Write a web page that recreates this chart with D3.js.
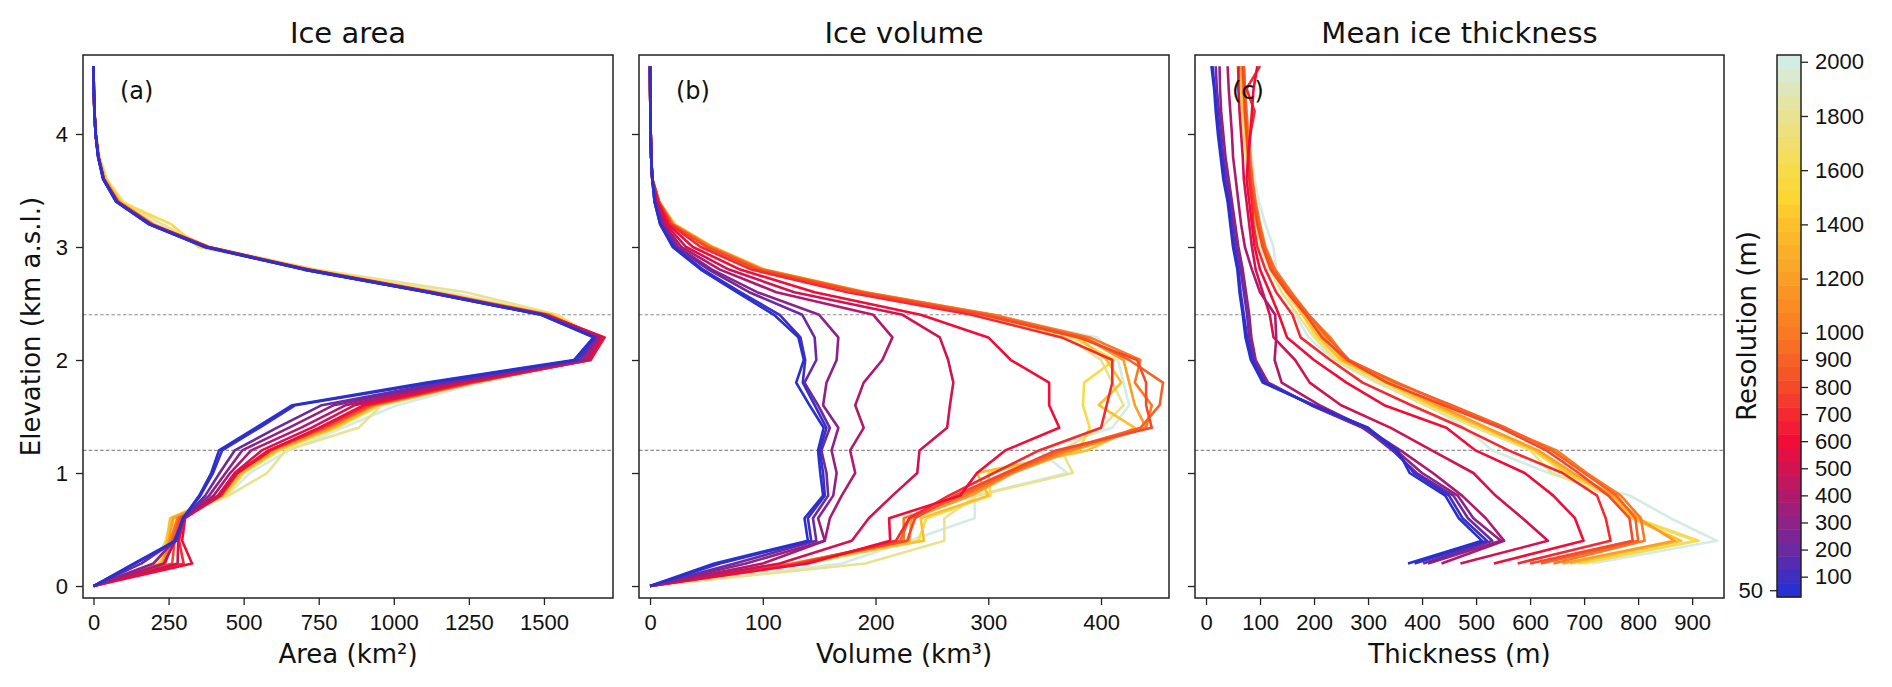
<!DOCTYPE html>
<html>
<head>
<meta charset="utf-8">
<title>Ice area, volume and thickness by resolution</title>
<style>
  body { margin: 0; background: #fff; }
  svg { display: block; font-family: "DejaVu Sans", sans-serif; }
  .tick text { font-size: 22px; fill: #111; }
  .tick line { stroke: #222; stroke-width: 1.3px; }
  .domain { display: none; }
</style>
</head>
<body>
<svg id="chart" width="1892" height="687"></svg>
<script src="https://d3js.org/d3.v7.min.js"></script>
<script>
// elevation bins (km a.s.l.)
const elevations = [0, 0.2, 0.4, 0.6, 0.8, 1.0, 1.2, 1.4, 1.6, 1.8, 2.0, 2.2, 2.4,
  2.6, 2.8, 3.0, 3.2, 3.4, 3.6, 3.8, 4.0, 4.2, 4.4, 4.6];

// DEM resolutions (m), one row per resolution in the arrays below
const resolutions = [50, 100, 200, 300, 400, 500, 600, 700, 800, 900, 1000, 1200, 1400, 1600, 1800, 2000];

// (a) ice area, km2
const areaKm2 = [
  [0,135,272,298,352,392,418,540,662,1110,1600,1665,1490,1110,700,370,185,75,32,15,7,3,1,0],
  [0,140,275,298,356,398,428,552,672,1125,1610,1668,1492,1112,702,372,186,76,32,15,7,3,1,0],
  [0,160,270,300,372,420,470,610,760,1160,1620,1672,1495,1115,705,375,188,78,33,16,7,3,1,0],
  [0,200,268,302,385,440,495,650,800,1180,1630,1678,1497,1118,707,377,190,78,33,16,7,3,1,0],
  [0,235,272,300,400,455,525,690,840,1200,1640,1685,1500,1120,708,378,190,79,34,16,7,3,1,0],
  [0,280,282,300,415,470,560,725,870,1220,1648,1692,1500,1122,710,380,192,80,34,16,7,3,1,0],
  [0,328,295,305,420,478,585,750,900,1240,1655,1702,1505,1125,712,380,192,80,34,16,7,3,1,0],
  [0,300,285,300,425,480,590,760,910,1250,1655,1697,1505,1125,712,380,193,80,34,16,7,3,1,0],
  [0,262,270,290,418,478,585,765,920,1255,1650,1692,1510,1128,712,382,193,80,34,16,7,3,1,0],
  [0,240,262,285,415,475,582,770,925,1258,1648,1688,1512,1130,715,382,195,82,35,16,7,3,1,0],
  [0,235,255,280,420,480,590,775,930,1262,1645,1685,1515,1130,715,385,195,82,35,16,7,3,1,0],
  [0,230,250,265,425,485,600,790,935,1265,1642,1682,1520,1135,720,385,200,85,35,16,7,3,1,0],
  [0,225,245,255,430,495,610,800,945,1268,1640,1680,1525,1140,725,370,200,90,40,17,8,3,1,0],
  [0,215,240,260,440,500,620,810,955,1272,1640,1678,1535,1150,730,350,260,92,40,18,8,3,1,0],
  [0,220,250,275,450,578,640,882,960,1275,1635,1672,1545,1240,740,380,230,100,45,20,10,4,1,0],
  [0,200,240,270,445,520,650,830,1010,1290,1630,1665,1540,1180,735,385,210,95,42,18,8,3,1,0]
];

// (b) ice volume, km3
const volumeKm3 = [
  [0,57,140,137,153.5,151,149,154,141.5,129.6,136.4,131.6,110,77,45,20,9,4,2,1,0.6,0.3,0.1,0],
  [0,62,143,140,155,153.5,150.5,156.5,146,135.5,137.6,133.4,115,80,47,21,9,4,2,1,0.6,0.3,0.1,0],
  [0,75,147.5,144.5,158,156.5,152,159.5,149,137,147.5,146,135,88,52,23,10,4,2,1,0.6,0.3,0.1,0],
  [0,85,155,149,162.5,165.5,161,167,153.5,156.5,165.5,167,150,95,55,25,11,5,2,1,0.6,0.3,0.1,0],
  [0,100,155,159.5,170,182,177.5,189.5,182,189.5,206,215,198,112,62,28,12,5,2,1,0.6,0.3,0.1,0],
  [0,115,179,194,215,237,239,263.5,266,269,264.4,257,224,128,70,32,14,6,2,1,0.6,0.3,0.1,0],
  [0,140,213,212,275,290,315,363,354,354,320,300,240,146,80,38,16,7,2,1,0.6,0.3,0.1,0],
  [0,135,218,230,265,305,345,400,405,410,410,365,285,175,90,45,18,7,2,1,0.6,0.3,0.1,0],
  [0,130,228,235,270,315,360,445,440,440,432,380,295,185,95,50,19,8,2,1,0.6,0.3,0.1,0],
  [0,130,222,230,275,318,365,435,452,455,425,385,300,188,98,52,20,8,2,1,0.6,0.3,0.1,0],
  [0,128,225,225,280,320,370,440,445,430,435,390,305,190,100,54,20,8,2,1,0.6,0.3,0.1,0],
  [0,125,230,232,285,322,375,440,430,425,420,385,300,190,100,55,21,8,2,1,0.6,0.3,0.1,0],
  [0,130,243,240,300,290,388,430,398,418,405,380,303,192,102,56,22,8,2,1,0.6,0.3,0.1,0],
  [0,140,238,245,302,300,380,390,384,385,412,375,298,190,100,55,22,8,2,1,0.6,0.3,0.1,0],
  [0,191,261,261,290,375,365,400,420,410,400,370,290,185,98,52,20,8,2,1,0.6,0.3,0.1,0],
  [0,170,230,288,288,370,345,410,425,420,415,397,295,188,98,50,20,8,2,1,0.6,0.3,0.1,0]
];

// (c) mean ice thickness, m (no value where there is no ice)
const thicknessM = [
  [null,374,511,468,443,377,355,299,200,105,83,73,68,62,58,50,45,40,32,27,22,18,15,10],
  [null,386,520,475,450,385,350,300,198,108,86,76,70,64,60,52,46,42,34,29,24,20,16,12],
  [null,402,530,485,458,390,345,292,195,111,89,80,76,70,64,56,50,45,38,32,28,24,20,18],
  [null,411,546,495,466,400,352,290,195,115,92,84,80,74,68,60,54,48,42,36,32,28,26,25],
  [null,436,552,518,474,420,360,295,210,140,127,130,128,100,85,72,65,60,55,50,48,45,42,40],
  [null,471,633,586,536,495,418,342,250,192,165,125,118,105,92,85,80,75,70,68,65,62,60,60],
  [null,533,699,683,643,590,499,445,330,260,200,150,135,118,100,90,85,80,75,78,82,85,88,95],
  [null,577,749,740,724,660,560,475,380,290,230,175,160,130,110,95,88,85,80,78,82,90,75,100],
  [null,600,790,784,745,690,630,545,440,335,262,215,185,150,120,105,95,88,82,78,75,72,70,68],
  [null,620,800,795,760,700,640,555,455,350,265,225,190,155,125,108,98,90,85,80,76,74,72,70],
  [null,643,812,805,768,705,649,550,450,355,262,230,190,158,128,110,100,92,86,82,78,75,72,70],
  [null,660,868,800,755,680,615,520,430,340,255,220,185,155,125,108,98,90,85,80,76,72,70,65],
  [null,674,880,790,750,672,610,515,420,335,250,210,180,150,122,105,95,88,82,78,74,70,66,62],
  [null,690,912,795,752,665,605,510,415,330,248,205,178,148,120,104,94,86,80,76,72,68,64,60],
  [null,700,905,790,748,640,600,500,405,320,240,200,170,140,118,102,92,85,78,74,70,66,62,58],
  [null,715,946,860,785,634,530,480,410,315,236,190,165,150,130,125,110,98,90,85,80,75,72,70]
];

const areaTicks = [0, 250, 500, 750, 1000, 1250, 1500];
const volumeTicks = [0, 100, 200, 300, 400];
const thicknessTicks = [0, 100, 200, 300, 400, 500, 600, 700, 800, 900];
const elevationTicks = [0, 1, 2, 3, 4];
const colorbarTicks = [100, 200, 300, 400, 500, 600, 700, 800, 900, 1000, 1200, 1400, 1600, 1800, 2000];
const guideElevations = [1.2, 2.4];

// colormap anchors (resolution -> colour)
const colorStops = [50, 200, 400, 600, 800, 1000, 1200, 1400, 1500, 1600, 1800, 2000];
const colorValues = ['#2830d2', '#6a2aa2', '#b01a6c', '#f20c38', '#f44a2a', '#f87a22',
  '#fa9e26', '#fcc02c', '#fdd632', '#f7dc4a', '#e9e290', '#d3ece4'];

const svg = d3.select("#chart");
const plotTop = 55, plotBottom = 598;
const fmt = d3.format("d");

const color = d3.scaleLinear().domain(colorStops).range(colorValues).interpolate(d3.interpolateRgb);
const y = d3.scaleLinear().domain([-0.106, 4.699]).range([plotBottom, plotTop]);

const panels = [
  { left: 83, right: 613, domain: [-35, 1730], ticks: areaTicks, data: areaKm2,
    title: "Ice area", tag: "(a)", xlabel: "Area (km\u00b2)" },
  { left: 639, right: 1169, domain: [-9.8, 460.3], ticks: volumeTicks, data: volumeKm3,
    title: "Ice volume", tag: "(b)", xlabel: "Volume (km\u00b3)" },
  { left: 1195, right: 1724, domain: [-20.4, 959], ticks: thicknessTicks, data: thicknessM,
    title: "Mean ice thickness", tag: "(c)", xlabel: "Thickness (m)" }
];

panels.forEach((p, pi) => {
  const x = d3.scaleLinear().domain(p.domain).range([p.left, p.right]);
  const g = svg.append("g");

  // guide lines
  g.selectAll("line.guide")
    .data(guideElevations)
    .join("line")
    .attr("x1", p.left).attr("x2", p.right)
    .attr("y1", d => y(d)).attr("y2", d => y(d))
    .attr("stroke", "#8c8c8c")
    .attr("stroke-width", 1.1)
    .attr("stroke-dasharray", "3.5,2.2");

  const line = d3.line()
    .defined(d => d[0] !== null)
    .x(d => x(d[0]))
    .y(d => y(d[1]));

  // coarse resolutions first so the fine ones sit on top
  const order = d3.range(resolutions.length).reverse();
  g.append("g")
    .selectAll("path")
    .data(order)
    .join("path")
    .attr("fill", "none")
    .attr("stroke", i => color(resolutions[i]))
    .attr("stroke-width", 2.6)
    .attr("stroke-linejoin", "round")
    .attr("d", i => line(p.data[i].map((v, k) => [v, elevations[k]])));

  // frame
  g.append("rect")
    .attr("x", p.left).attr("y", plotTop)
    .attr("width", p.right - p.left).attr("height", plotBottom - plotTop)
    .attr("fill", "none").attr("stroke", "#222").attr("stroke-width", 1.5);

  g.append("g")
    .attr("transform", `translate(0,${plotBottom})`)
    .call(d3.axisBottom(x).tickValues(p.ticks).tickFormat(fmt).tickSize(7).tickPadding(9));

  const yAxis = d3.axisLeft(y).tickValues(elevationTicks).tickFormat(fmt).tickSize(7).tickPadding(8);
  if (pi > 0) yAxis.tickFormat("");
  g.append("g")
    .attr("transform", `translate(${p.left},0)`)
    .call(yAxis);

  g.append("text")
    .attr("x", (p.left + p.right) / 2).attr("y", 43)
    .attr("text-anchor", "middle")
    .attr("font-size", 29).attr("fill", "#111")
    .text(p.title);

  g.append("text")
    .attr("x", p.left + 37).attr("y", 99)
    .attr("font-size", 24).attr("fill", "#111")
    .text(p.tag);

  g.append("text")
    .attr("x", (p.left + p.right) / 2).attr("y", 663)
    .attr("text-anchor", "middle")
    .attr("font-size", 26).attr("fill", "#111")
    .text(p.xlabel);
});

svg.append("text")
  .attr("transform", `translate(40,${(plotTop + plotBottom) / 2}) rotate(-90)`)
  .attr("text-anchor", "middle")
  .attr("font-size", 26).attr("fill", "#111")
  .text("Elevation (km a.s.l.)");

// colorbar
const cbLeft = 1777, cbRight = 1801;
const cb = d3.scaleLinear().domain([25, 2025]).range([597, 55]);
const bins = d3.range(50, 2001, 50);
const cbar = svg.append("g");
cbar.selectAll("rect.bin")
  .data(bins)
  .join("rect")
  .attr("x", cbLeft).attr("width", cbRight - cbLeft)
  .attr("y", d => cb(d + 25)).attr("height", d => cb(d - 25) - cb(d + 25) + 0.5)
  .attr("fill", d => color(d));
cbar.append("rect")
  .attr("x", cbLeft).attr("y", 55)
  .attr("width", cbRight - cbLeft).attr("height", 542)
  .attr("fill", "none").attr("stroke", "#222").attr("stroke-width", 1.5);
cbar.append("g")
  .attr("transform", `translate(${cbRight},0)`)
  .call(d3.axisRight(cb).tickValues(colorbarTicks).tickFormat(fmt).tickSize(7).tickPadding(7));
cbar.append("g")
  .attr("transform", `translate(${cbLeft},0)`)
  .call(d3.axisLeft(cb).tickValues([50]).tickFormat(fmt).tickSize(7).tickPadding(7));
cbar.append("text")
  .attr("transform", `translate(1756,${(55 + 597) / 2}) rotate(-90)`)
  .attr("text-anchor", "middle")
  .attr("font-size", 26).attr("fill", "#111")
  .text("Resolution (m)");
</script>
</body>
</html>
